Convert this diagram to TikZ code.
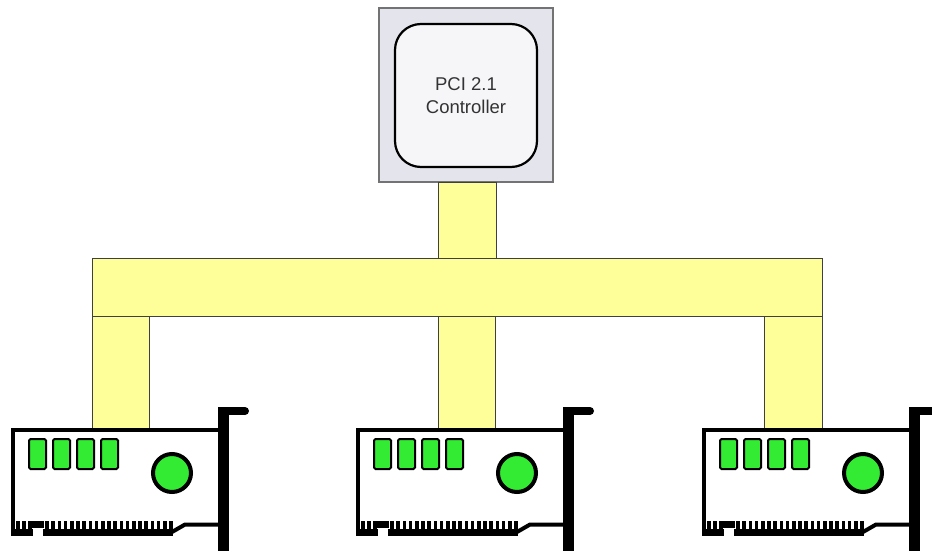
\documentclass[tikz,border=0pt]{standalone}
\usepackage{fontspec}
\setmainfont{Liberation Sans}
\definecolor{busyellow}{RGB}{255,255,153}
\definecolor{chipgreen}{RGB}{50,235,50}
\definecolor{ctrlgray}{RGB}{228,228,236}
\definecolor{ctrlinner}{RGB}{246,246,249}
\definecolor{ctrltext}{RGB}{51,51,51}
\tikzset{
  busbar/.style={fill=busyellow, draw=black!75, line width=0.9pt},
  chip/.style={fill=chipgreen, draw=black, line width=2pt, rounded corners=1.5pt},
  cardline/.style={line width=4pt, line join=miter},
  pcicard/.pic={
    \fill[white] (0,0) rectangle (207,100);
    % outline top and left
    \draw[cardline] (207,0) -- (0,0) -- (0,106);
    % edge connector bar
    \fill[black] (-2,99) rectangle (20,106);
    \fill[black] (30,99) rectangle (160,106);
    \fill[black] (19,91) rectangle (31,97.5);
    \foreach \t in {5,11,17} {\fill[black] (\t-1.8,91) rectangle (\t+1.8,100);}
    \foreach \t in {34,40.2,...,160} {\fill[black] (\t-1.8,91) rectangle (\t+1.8,100);}
    % right bottom edge
    \draw[cardline] (159,102) -- (172,94.5) -- (207,94.5);
    % bracket
    \fill[black] (205,-23) rectangle (216,121);
    \fill[black] (205,-23) rectangle (232,-15);
    \fill[black] (232,-19) circle (4);
    % chips
    \foreach \c in {16,40,64,88} {\draw[chip] (\c,9) rectangle (\c+17,39);}
    % round component
    \draw[fill=chipgreen, draw=black, line width=4pt] (159,43) circle (19);
  }
}
\begin{document}
\begin{tikzpicture}[x=1pt,y=-1pt]
\useasboundingbox[fill=white] (0,0) rectangle (932,552);
% controller
\node[draw=black!55, line width=1.2pt, fill=ctrlgray, minimum width=174pt, minimum height=174pt, inner sep=0pt] (ctrlbox) at (466,95) {};
\node[draw=black, line width=2.2pt, fill=ctrlinner, rounded corners=26pt, minimum width=142pt, minimum height=143pt, inner sep=0pt,
      align=center, text=ctrltext, font=\fontsize{18.5}{23.5}\selectfont] (ctrl) at (466,95.5) {PCI 2.1\\Controller};
% bus
\draw[busbar] (438,182) rectangle (496,258);
\draw[busbar] (92,258) rectangle (822,316);
\draw[busbar] (92,316) rectangle (149,430);
\draw[busbar] (438,316) rectangle (495,430);
\draw[busbar] (764,316) rectangle (822,430);
% cards
\pic (card1) at (13,430) {pcicard};
\pic (card2) at (358,430) {pcicard};
\pic (card3) at (704,430) {pcicard};
\end{tikzpicture}
\end{document}
